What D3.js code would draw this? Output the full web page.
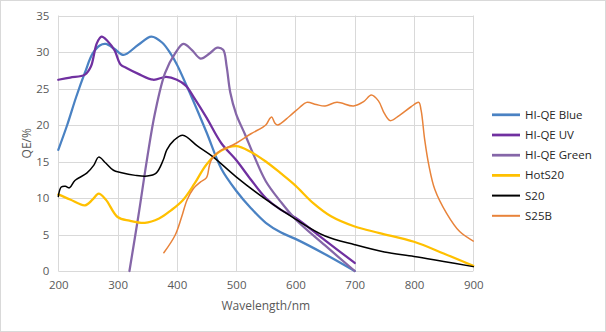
<!DOCTYPE html>
<html>
<head>
<meta charset="utf-8">
<script src="https://cdn.jsdelivr.net/npm/d3@7"></script>
<style>
  html, body { margin: 0; padding: 0; background: #fff; }
  svg { display: block; font-family: "Open Sans", "Liberation Sans", sans-serif; }
</style>
</head>
<body>
<svg id="chart" width="606" height="332"></svg>
<script>
// Photocathode quantum efficiency curves, [wavelength nm, QE %]
const hiQeBlue = [[200,16.6],[215,20],[230,23.8],[245,27.2],[258,29.8],[270,30.9],[280,31.1],[295,30.4],[310,29.6],[335,31],[357,32.1],[375,31.3],[390,29.7],[400,28.3],[425,23.8],[450,19],[475,14],[500,11],[525,8.6],[550,6.6],[575,5.3],[600,4.4],[650,2.3],[700,0]];
const hiQeUV = [[200,26.2],[220,26.5],[245,26.9],[255,28],[265,31.2],[273,32.1],[283,31.5],[295,30.2],[305,28.3],[315,27.8],[335,27],[360,26.2],[382,26.6],[400,26.2],[415,25.4],[430,23.6],[450,21],[475,17.5],[500,15.2],[525,12.5],[550,10],[575,8.4],[600,7.3],[650,4.2],[700,1.1]];
const hiQeGreen = [[320,0],[335,7.5],[350,15.5],[363,21.6],[380,27.1],[397,29.8],[411,31.1],[425,30.3],[440,29.1],[455,29.8],[468,30.6],[478,30.3],[484,28],[490,24.5],[500,21.5],[515,18.7],[530,15.8],[550,12.3],[575,9.5],[600,7.1],[650,3.5],[700,0]];
const hotS20 = [[200,10.5],[220,9.8],[245,9.0],[258,9.8],[268,10.6],[280,9.8],[300,7.4],[320,6.9],[346,6.6],[370,7.2],[390,8.3],[410,9.7],[430,12],[450,14.6],[475,16.5],[500,17.1],[525,16.3],[550,15],[575,13.4],[600,11.7],[630,9.3],[660,7.5],[700,6.1],[742,5.2],[800,4],[850,2.4],[900,0.7]];
const s20 = [[200,10.2],[205,11.5],[212,11.6],[219,11.4],[228,12.4],[248,13.4],[260,14.5],[268,15.6],[280,14.8],[293,13.8],[305,13.5],[330,13.1],[350,13],[365,13.4],[377,15.2],[383,16.6],[395,17.9],[410,18.6],[435,17.1],[460,15.7],[500,12.9],[550,9.8],[600,7.1],[650,4.8],[700,3.6],[750,2.6],[800,2.0],[850,1.3],[900,0.6]];
const s25B = [[378,2.5],[397,4.9],[408,7.4],[417,9.7],[428,11.3],[440,12.2],[450,12.8],[455,14.5],[460,15.5],[470,16.3],[500,17.5],[525,18.8],[550,20],[556,20.8],[560,21.1],[565,20.3],[570,20],[590,21.2],[607,22.4],[619,23.1],[635,22.8],[650,22.6],[670,23.1],[698,22.6],[715,23.2],[728,24.1],[740,23.3],[750,21.6],[760,20.6],[775,21.3],[795,22.5],[808,23.1],[812,22],[818,18],[825,14.5],[835,11.2],[855,7.9],[877,5.4],[900,4.1]];

const seriesNames = ["HI-QE Blue", "HI-QE UV", "HI-QE Green", "HotS20", "S20", "S25B"];
const seriesData = [hiQeBlue, hiQeUV, hiQeGreen, hotS20, s20, s25B];
const seriesColors = ["#4a82c3", "#7030a0", "#8566a8", "#ffc000", "#000000", "#e8833a"];
const seriesWidths = [2.25, 2.25, 2.25, 2.25, 1.5, 1.5];

const xTicks = [200, 300, 400, 500, 600, 700, 800, 900];
const yTicks = [0, 5, 10, 15, 20, 25, 30, 35];

const svg = d3.select("#chart");
const W = 606, H = 332;
const plot = { left: 58.3, right: 473.3, top: 15.5, bottom: 271 };

// outer chart border
svg.append("rect")
  .attr("x", 0.5).attr("y", 0.5).attr("width", W - 1).attr("height", H - 1)
  .attr("fill", "#fff").attr("stroke", "#d9d9d9");

const x = d3.scaleLinear().domain([200, 900]).range([plot.left, plot.right]);
const y = d3.scaleLinear().domain([0, 35]).range([plot.bottom, plot.top]);

// gridlines
const grid = svg.append("g").attr("stroke", "#d9d9d9").attr("stroke-width", 1);
grid.selectAll("line.h").data(yTicks).join("line")
  .attr("x1", plot.left).attr("x2", plot.right)
  .attr("y1", d => Math.round(y(d)) + 0.5).attr("y2", d => Math.round(y(d)) + 0.5);
grid.selectAll("line.v").data(xTicks).join("line")
  .attr("y1", plot.top).attr("y2", plot.bottom)
  .attr("x1", d => Math.round(x(d)) + 0.5).attr("x2", d => Math.round(x(d)) + 0.5);

// axes
const xAxis = svg.append("g")
  .attr("transform", `translate(0,${plot.bottom})`)
  .call(d3.axisBottom(x).tickValues(xTicks).tickSize(0).tickPadding(10));
const yAxis = svg.append("g")
  .attr("transform", `translate(${plot.left},0)`)
  .call(d3.axisLeft(y).tickValues(yTicks).tickSize(0).tickPadding(9));
[xAxis, yAxis].forEach(a => {
  a.select(".domain").remove();
  a.selectAll("text").attr("fill", "#595959").style("font-size", "11.5px")
    .style("font-family", "'Open Sans', sans-serif");
});

// axis titles
svg.append("text")
  .attr("x", (plot.left + plot.right) / 2).attr("y", 310)
  .attr("text-anchor", "middle").attr("fill", "#595959")
  .style("font-size", "12px").text("Wavelength/nm");
svg.append("text")
  .attr("transform", `translate(31,${(plot.top + plot.bottom) / 2}) rotate(-90)`)
  .attr("text-anchor", "middle").attr("fill", "#595959")
  .style("font-size", "12px").text("QE/%");

// curves
const line = d3.line()
  .x(d => x(d[0])).y(d => y(d[1]))
  .curve(d3.curveCatmullRom.alpha(0.5));

const curves = svg.append("g").attr("fill", "none")
  .attr("stroke-linejoin", "round").attr("stroke-linecap", "round");
seriesData.forEach((data, i) => {
  curves.append("path")
    .attr("d", line(data))
    .attr("stroke", seriesColors[i])
    .attr("stroke-width", seriesWidths[i]);
});

// legend
const legend = svg.append("g").attr("transform", "translate(492,114.8)");
seriesNames.forEach((name, i) => {
  const g = legend.append("g").attr("transform", `translate(0,${i * 20.2})`);
  g.append("line").attr("x1", 0).attr("x2", 28).attr("y1", 0).attr("y2", 0)
    .attr("stroke", seriesColors[i]).attr("stroke-width", seriesWidths[i] + 0.5);
  g.append("text").attr("x", 33).attr("y", 0).attr("dy", "0.35em")
    .attr("fill", "#262626").style("font-size", "11.5px").text(name);
});
</script>
</body>
</html>
